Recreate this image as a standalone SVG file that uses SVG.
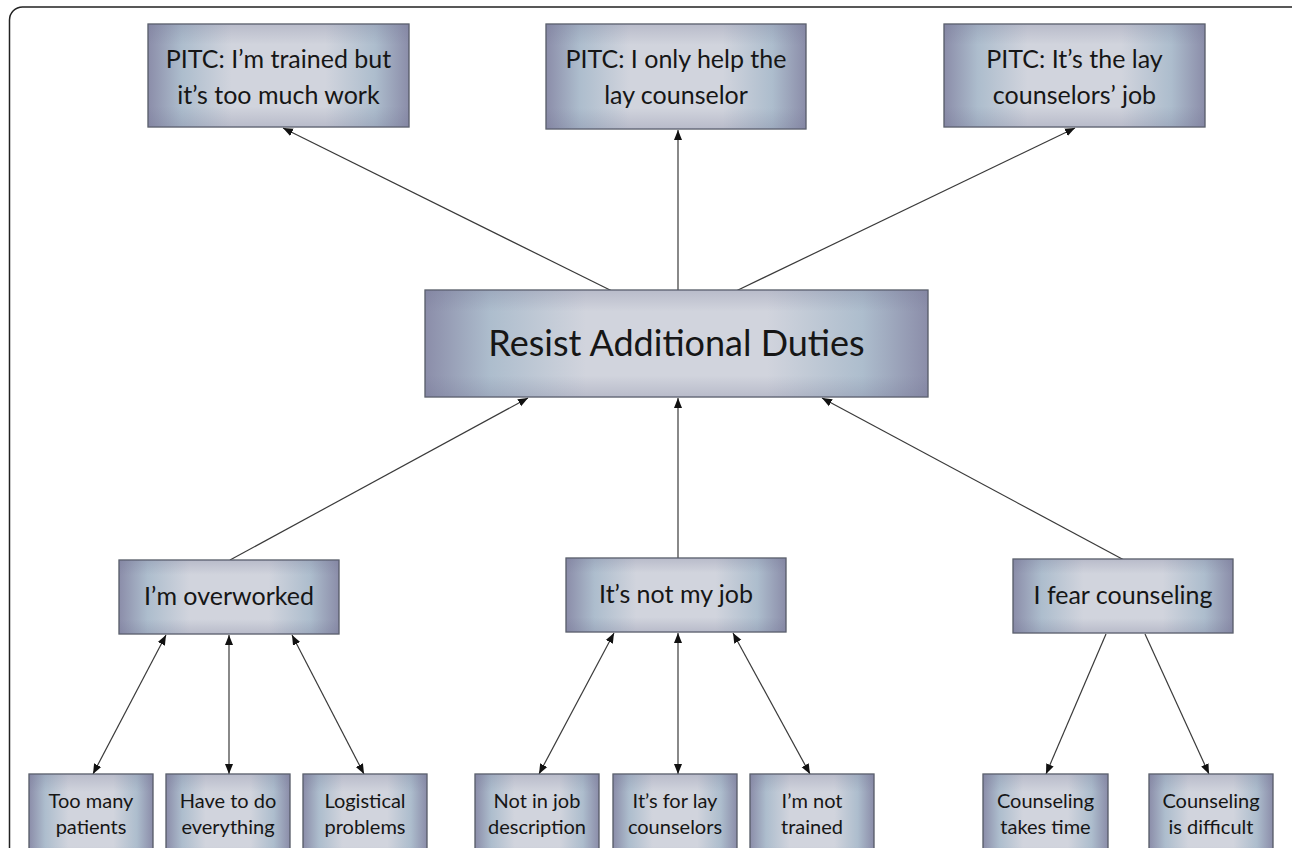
<svg xmlns="http://www.w3.org/2000/svg" width="1292" height="848" viewBox="0 0 1292 848">
<defs>
<linearGradient id="gh" x1="0" y1="0" x2="1" y2="0">
<stop offset="0" stop-color="#8b8da9"/>
<stop offset="0.13" stop-color="#adbdcd"/>
<stop offset="0.32" stop-color="#d1d4dd"/>
<stop offset="0.68" stop-color="#d1d4dd"/>
<stop offset="0.87" stop-color="#adbdcd"/>
<stop offset="1" stop-color="#8b8da9"/>
</linearGradient>
<linearGradient id="gv" x1="0" y1="0" x2="0" y2="1">
<stop offset="0" stop-color="#6e7090" stop-opacity="0.25"/>
<stop offset="0.2" stop-color="#6e7090" stop-opacity="0"/>
<stop offset="0.8" stop-color="#6e7090" stop-opacity="0"/>
<stop offset="1" stop-color="#6e7090" stop-opacity="0.25"/>
</linearGradient>
<marker id="ah" viewBox="0 0 10 10" refX="10" refY="5" markerWidth="10" markerHeight="10" markerUnits="userSpaceOnUse" orient="auto-start-reverse">
<path d="M0,1 L10,5 L0,9 Z" fill="#111"/>
</marker>
</defs>
<style>
.box{fill:url(#gh);stroke:#555a66;stroke-width:1.3}
.ov{fill:url(#gv);stroke:none}
text{font-family:Lato,"Open Sans","Liberation Sans",sans-serif;fill:#161616;text-anchor:middle}
.t1{font-size:25px}
.t0{font-size:36px}
.t2{font-size:25px}
.t3{font-size:20px}
.c{stroke:#3a3a3a;stroke-width:1.2;fill:none}
.e{marker-end:url(#ah)}
.b{marker-start:url(#ah);marker-end:url(#ah)}
</style>
<rect x="9.5" y="7" width="1300" height="900" rx="13" fill="#fff" stroke="#222" stroke-width="1.5"/>

<g id="connectors">
<line class="c e" x1="612" y1="291" x2="283" y2="128"/>
<line class="c e" x1="678" y1="290" x2="678" y2="130"/>
<line class="c e" x1="736" y1="291" x2="1075" y2="128"/>
<line class="c e" x1="230" y1="560" x2="528" y2="398"/>
<line class="c e" x1="678" y1="560" x2="678" y2="398"/>
<line class="c e" x1="1124" y1="560" x2="822" y2="398"/>
<line class="c b" x1="166" y1="635" x2="93" y2="774"/>
<line class="c b" x1="229" y1="635" x2="229" y2="774"/>
<line class="c b" x1="292" y1="635" x2="364" y2="774"/>
<line class="c b" x1="614" y1="633" x2="539" y2="774"/>
<line class="c b" x1="678" y1="633" x2="678" y2="774"/>
<line class="c b" x1="733" y1="633" x2="810" y2="774"/>
<line class="c e" x1="1106" y1="634" x2="1046" y2="774"/>
<line class="c e" x1="1145" y1="634" x2="1209" y2="774"/>
</g>

<g id="n-top1"><rect class="box" x="148" y="24" width="261" height="103"/><rect class="ov" x="148" y="24" width="261" height="103"/>
<text class="t1" x="278.5" y="68">PITC: I’m trained but</text><text class="t1" x="278.5" y="104">it’s too much work</text></g>
<g id="n-top2"><rect class="box" x="546" y="24" width="260" height="105"/><rect class="ov" x="546" y="24" width="260" height="105"/>
<text class="t1" x="676" y="68">PITC: I only help the</text><text class="t1" x="676" y="104">lay counselor</text></g>
<g id="n-top3"><rect class="box" x="944" y="24" width="261" height="103"/><rect class="ov" x="944" y="24" width="261" height="103"/>
<text class="t1" x="1074.5" y="68">PITC: It’s the lay</text><text class="t1" x="1074.5" y="104">counselors’ job</text></g>

<g id="n-center"><rect class="box" x="425" y="290" width="503" height="107"/><rect class="ov" x="425" y="290" width="503" height="107"/>
<text class="t0" x="676.5" y="356">Resist Additional Duties</text></g>

<g id="n-overworked"><rect class="box" x="119" y="560" width="220" height="74"/><rect class="ov" x="119" y="560" width="220" height="74"/>
<text class="t2" x="229" y="605">I’m overworked</text></g>
<g id="n-notmyjob"><rect class="box" x="566" y="558" width="220" height="74"/><rect class="ov" x="566" y="558" width="220" height="74"/>
<text class="t2" x="676" y="603">It’s not my job</text></g>
<g id="n-fear"><rect class="box" x="1013" y="559" width="220" height="74"/><rect class="ov" x="1013" y="559" width="220" height="74"/>
<text class="t2" x="1123" y="604">I fear counseling</text></g>

<g id="n-b1"><rect class="box" x="29" y="774" width="124" height="90"/><rect class="ov" x="29" y="774" width="124" height="90"/>
<text class="t3" x="91" y="808">Too many</text><text class="t3" x="91" y="834">patients</text></g>
<g id="n-b2"><rect class="box" x="166" y="774" width="124" height="90"/><rect class="ov" x="166" y="774" width="124" height="90"/>
<text class="t3" x="228" y="808">Have to do</text><text class="t3" x="228" y="834">everything</text></g>
<g id="n-b3"><rect class="box" x="303" y="774" width="124" height="90"/><rect class="ov" x="303" y="774" width="124" height="90"/>
<text class="t3" x="365" y="808">Logistical</text><text class="t3" x="365" y="834">problems</text></g>
<g id="n-b4"><rect class="box" x="475" y="774" width="124" height="90"/><rect class="ov" x="475" y="774" width="124" height="90"/>
<text class="t3" x="537" y="808">Not in job</text><text class="t3" x="537" y="834">description</text></g>
<g id="n-b5"><rect class="box" x="613" y="774" width="124" height="90"/><rect class="ov" x="613" y="774" width="124" height="90"/>
<text class="t3" x="675" y="808">It’s for lay</text><text class="t3" x="675" y="834">counselors</text></g>
<g id="n-b6"><rect class="box" x="750" y="774" width="124" height="90"/><rect class="ov" x="750" y="774" width="124" height="90"/>
<text class="t3" x="812" y="808">I’m not</text><text class="t3" x="812" y="834">trained</text></g>
<g id="n-b7"><rect class="box" x="983" y="774" width="125" height="90"/><rect class="ov" x="983" y="774" width="125" height="90"/>
<text class="t3" x="1045.5" y="808">Counseling</text><text class="t3" x="1045.5" y="834">takes time</text></g>
<g id="n-b8"><rect class="box" x="1149" y="774" width="124" height="90"/><rect class="ov" x="1149" y="774" width="124" height="90"/>
<text class="t3" x="1211" y="808">Counseling</text><text class="t3" x="1211" y="834">is difficult</text></g>
</svg>
